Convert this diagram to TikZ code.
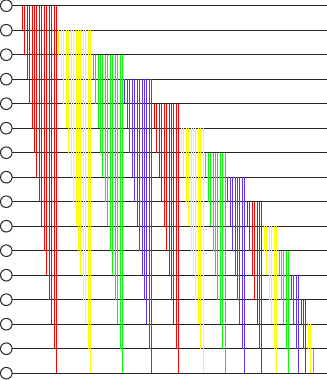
\documentclass[tikz,border=0pt]{standalone}
\definecolor{netred}{RGB}{255,0,0}
\definecolor{netyellow}{RGB}{255,255,0}
\definecolor{netgreen}{RGB}{0,255,0}
\definecolor{netblue}{RGB}{95,50,255}
\tikzset{
  wire/.style={line width=1bp,black!85},
  cmp/.style={line width=1bp}
}
\begin{document}
\begin{tikzpicture}[x=1bp,y=-1bp]
    \useasboundingbox (0,0) rectangle (327,380);

    %fili orizzontali e cerchi di ingresso
    \foreach \w in {0,...,15}{
        \draw[wire] (6.3,5.7+24.5*\w) circle (5.8);
        \draw[wire] (12.1,5.7+24.5*\w) -- (327,5.7+24.5*\w);
    }

    %comparatori, un gruppo per ogni filo
    \foreach \i/\c in {0/netred,1/netyellow,2/netgreen,3/netblue,
                       4/netred,5/netyellow,6/netgreen,7/netblue,
                       8/netred,9/netyellow,10/netgreen,11/netblue,
                       12/netred,13/netyellow,14/netgreen}{
        \foreach \j in {\i,...,14}{
            \pgfmathsetmacro\k{15*\i-\i*(\i-1)/2+\j-\i}
            \pgfmathsetmacro\xx{22.3+2.445*\k}
            \draw[cmp,\c] (\xx,5.7+24.5*\i) -- (\xx,5.7+24.5*\j+24.5);
        }
    }
\end{tikzpicture}
\end{document}
